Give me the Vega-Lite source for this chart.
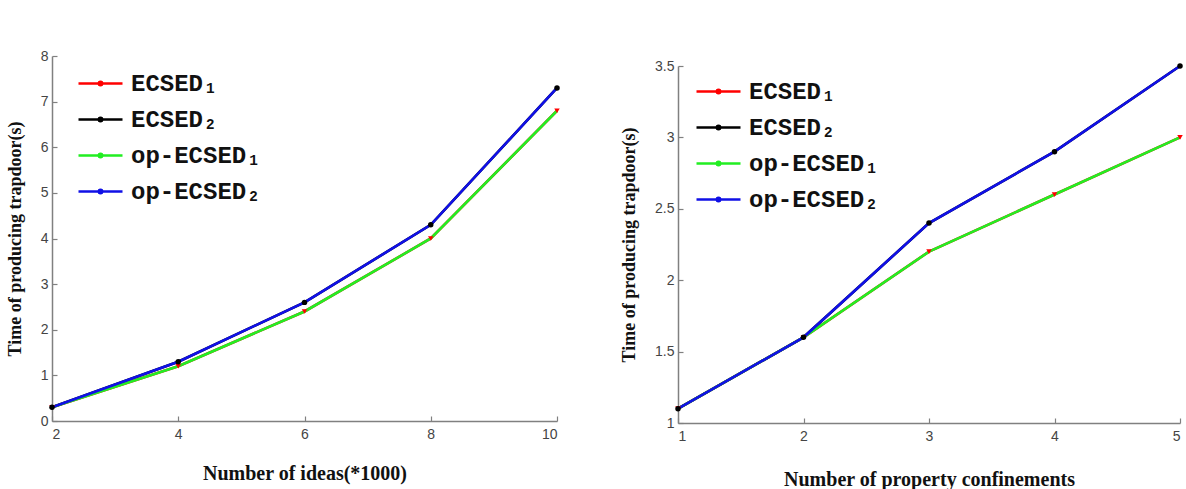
{
  "$schema": "https://vega.github.io/schema/vega-lite/v6.json",
  "background": "white",
  "padding": {"left": 6, "top": 49, "right": 2, "bottom": 0},
  "center": true,
  "resolve": {"scale": {"color": "independent", "shape": "independent"}, "legend": {"color": "independent"}},
  "datasets": {
    "ideas": [
      {"series": "ECSED1", "x": 2, "y": 0.3}, {"series": "ECSED1", "x": 4, "y": 1.2}, {"series": "ECSED1", "x": 6, "y": 2.4}, {"series": "ECSED1", "x": 8, "y": 4.0}, {"series": "ECSED1", "x": 10, "y": 6.8},
      {"series": "ECSED2", "x": 2, "y": 0.3}, {"series": "ECSED2", "x": 4, "y": 1.3}, {"series": "ECSED2", "x": 6, "y": 2.6}, {"series": "ECSED2", "x": 8, "y": 4.3}, {"series": "ECSED2", "x": 10, "y": 7.3},
      {"series": "op-ECSED1", "x": 2, "y": 0.3}, {"series": "op-ECSED1", "x": 4, "y": 1.2}, {"series": "op-ECSED1", "x": 6, "y": 2.4}, {"series": "op-ECSED1", "x": 8, "y": 4.0}, {"series": "op-ECSED1", "x": 10, "y": 6.8},
      {"series": "op-ECSED2", "x": 2, "y": 0.3}, {"series": "op-ECSED2", "x": 4, "y": 1.3}, {"series": "op-ECSED2", "x": 6, "y": 2.6}, {"series": "op-ECSED2", "x": 8, "y": 4.3}, {"series": "op-ECSED2", "x": 10, "y": 7.3}
    ],
    "props": [
      {"series": "ECSED1", "x": 1, "y": 1.1}, {"series": "ECSED1", "x": 2, "y": 1.6}, {"series": "ECSED1", "x": 3, "y": 2.2}, {"series": "ECSED1", "x": 4, "y": 2.6}, {"series": "ECSED1", "x": 5, "y": 3.0},
      {"series": "ECSED2", "x": 1, "y": 1.1}, {"series": "ECSED2", "x": 2, "y": 1.6}, {"series": "ECSED2", "x": 3, "y": 2.4}, {"series": "ECSED2", "x": 4, "y": 2.9}, {"series": "ECSED2", "x": 5, "y": 3.5},
      {"series": "op-ECSED1", "x": 1, "y": 1.1}, {"series": "op-ECSED1", "x": 2, "y": 1.6}, {"series": "op-ECSED1", "x": 3, "y": 2.2}, {"series": "op-ECSED1", "x": 4, "y": 2.6}, {"series": "op-ECSED1", "x": 5, "y": 3.0},
      {"series": "op-ECSED2", "x": 1, "y": 1.1}, {"series": "op-ECSED2", "x": 2, "y": 1.6}, {"series": "op-ECSED2", "x": 3, "y": 2.4}, {"series": "op-ECSED2", "x": 4, "y": 2.9}, {"series": "op-ECSED2", "x": 5, "y": 3.5}
    ]
  },
  "config": {
    "view": {"stroke": null},
    "axis": {
      "grid": false,
      "domainColor": "#808080",
      "domainWidth": 1.5,
      "tickColor": "#808080",
      "tickWidth": 1.2,
      "tickSize": -5,
      "labelPadding": 9,
      "labelFont": "Liberation Sans",
      "labelFontSize": 14,
      "labelColor": "#444444",
      "titleFont": "Liberation Serif",
      "titleFontWeight": "bold",
      "titleFontSize": 18,
      "titleColor": "#111111"
    },
    "axisX": {"labelPadding": 11, "titleFontSize": 20},
    "legend": {
      "orient": "none",
      "labelFont": "Liberation Mono",
      "labelFontWeight": "bold",
      "labelFontSize": 24,
      "labelColor": "#111111",
      "symbolType": "M-1,0H1M0.08,0A0.08,0.08,0,1,1,-0.08,0A0.08,0.08,0,1,1,0.08,0",
      "symbolSize": 1936,
      "symbolStrokeWidth": 2.5,
      "rowPadding": 0,
      "labelOffset": 7,
      "title": null
    }
  },
  "spacing": 57,
  "hconcat": [
    {
      "width": 505,
      "height": 365,
      "title": {"text": " ", "orient": "bottom", "fontSize": 2, "offset": 14},
      "data": {"name": "ideas"},
      "layer": [
        {
          "mark": {"type": "line", "strokeWidth": 2.6},
          "encoding": {
            "x": {"field": "x", "type": "quantitative", "scale": {"domain": [2, 10], "nice": false}, "axis": {"values": [2, 4, 6, 8, 10], "format": "d", "title": "Number of ideas(*1000)", "titlePadding": 22}},
            "y": {"field": "y", "type": "quantitative", "scale": {"domain": [0, 8], "nice": false}, "axis": {"values": [0, 1, 2, 3, 4, 5, 6, 7, 8], "title": "Time of producing trapdoor(s)", "titlePadding": 16}},
            "color": {
              "field": "series", "type": "nominal",
              "scale": {"domain": ["ECSED1", "ECSED2", "op-ECSED1", "op-ECSED2"], "range": ["#ff0000", "#000000", "#22ee22", "#1010e6"]},
              "legend": {"legendX": 25, "legendY": 4, "labelExpr": "datum.label == 'ECSED1' ? 'ECSED₁' : datum.label == 'ECSED2' ? 'ECSED₂' : datum.label == 'op-ECSED1' ? 'op‑ECSED₁' : 'op‑ECSED₂'"}
            }
          }
        },
        {
          "transform": [{"filter": "datum.series == 'ECSED1' || datum.series == 'ECSED2'"}],
          "mark": {"type": "point", "filled": true, "opacity": 1, "size": 30},
          "encoding": {
            "x": {"field": "x", "type": "quantitative"},
            "y": {"field": "y", "type": "quantitative"},
            "shape": {"field": "series", "type": "nominal", "scale": {"domain": ["ECSED1", "ECSED2"], "range": ["triangle-down", "circle"]}, "legend": null},
            "color": {"field": "series", "type": "nominal", "scale": {"domain": ["ECSED1", "ECSED2", "op-ECSED1", "op-ECSED2"], "range": ["#ff0000", "#000000", "#22ee22", "#1010e6"]}, "legend": null}
          }
        }
      ]
    },
    {
      "width": 502,
      "height": 357,
      "data": {"name": "props"},
      "layer": [
        {
          "mark": {"type": "line", "strokeWidth": 2.6},
          "encoding": {
            "x": {"field": "x", "type": "quantitative", "scale": {"domain": [1, 5], "nice": false}, "axis": {"values": [1, 2, 3, 4, 5], "format": "d", "title": "Number of property confinements", "titlePadding": 26}},
            "y": {"field": "y", "type": "quantitative", "scale": {"domain": [1, 3.5], "nice": false}, "axis": {"values": [1, 1.5, 2, 2.5, 3, 3.5], "labelExpr": "datum.value", "title": "Time of producing trapdoor(s)", "titlePadding": 16}},
            "color": {
              "field": "series", "type": "nominal",
              "scale": {"domain": ["ECSED1", "ECSED2", "op-ECSED1", "op-ECSED2"], "range": ["#ff0000", "#000000", "#22ee22", "#1010e6"]},
              "legend": {"legendX": 17, "legendY": 2, "labelExpr": "datum.label == 'ECSED1' ? 'ECSED₁' : datum.label == 'ECSED2' ? 'ECSED₂' : datum.label == 'op-ECSED1' ? 'op‑ECSED₁' : 'op‑ECSED₂'"}
            }
          }
        },
        {
          "transform": [{"filter": "datum.series == 'ECSED1' || datum.series == 'ECSED2'"}],
          "mark": {"type": "point", "filled": true, "opacity": 1, "size": 30},
          "encoding": {
            "x": {"field": "x", "type": "quantitative"},
            "y": {"field": "y", "type": "quantitative"},
            "shape": {"field": "series", "type": "nominal", "scale": {"domain": ["ECSED1", "ECSED2"], "range": ["triangle-down", "circle"]}, "legend": null},
            "color": {"field": "series", "type": "nominal", "scale": {"domain": ["ECSED1", "ECSED2", "op-ECSED1", "op-ECSED2"], "range": ["#ff0000", "#000000", "#22ee22", "#1010e6"]}, "legend": null}
          }
        }
      ]
    }
  ]
}
